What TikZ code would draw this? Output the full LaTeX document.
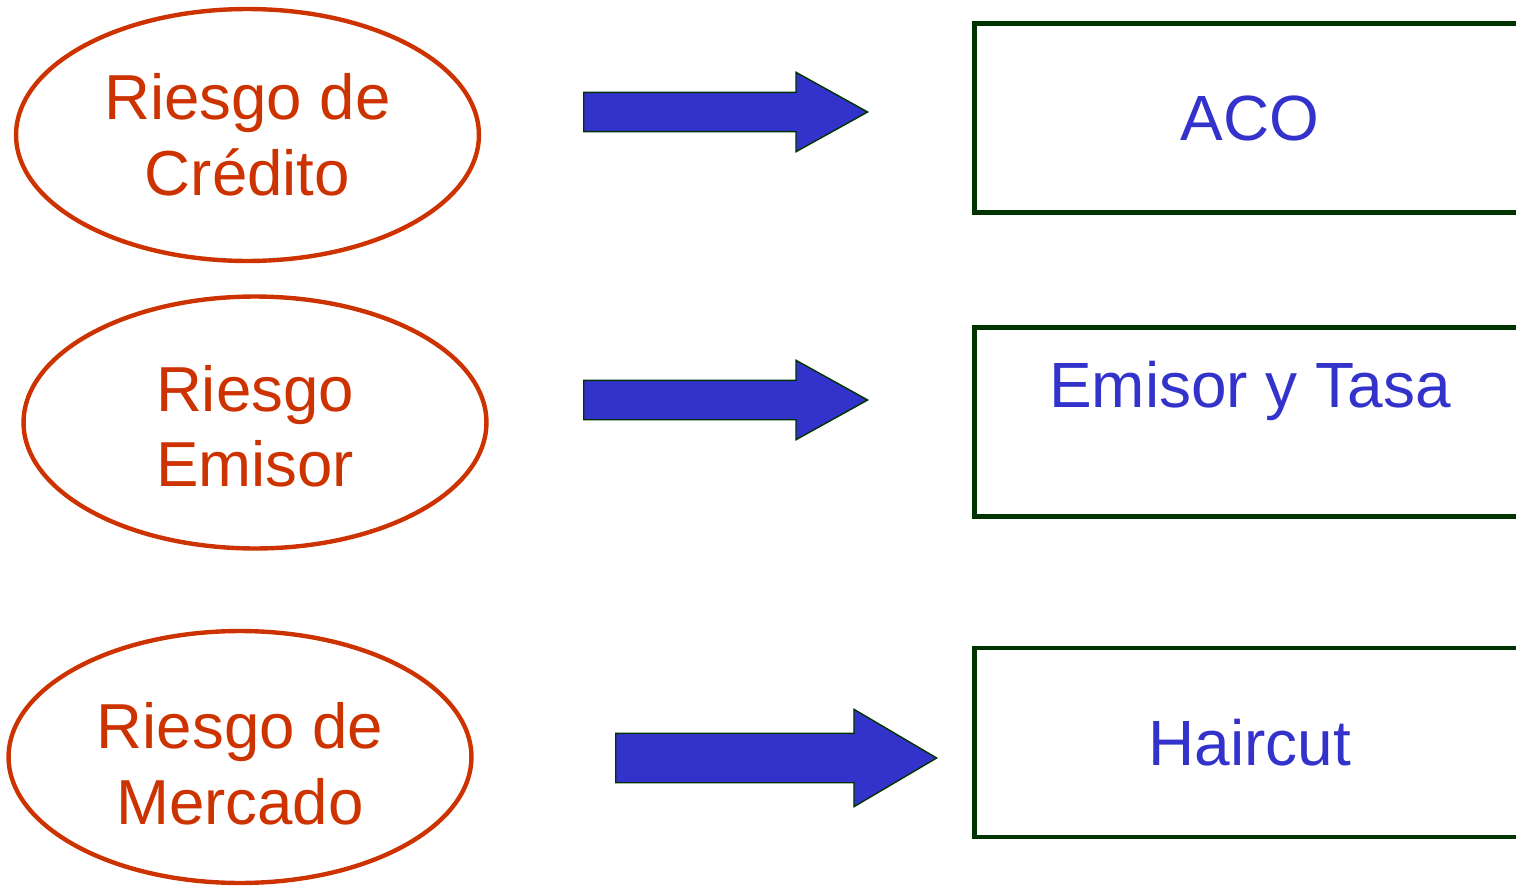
\documentclass[tikz,border=0pt]{standalone}
\usepackage{fontspec}
\setmainfont{Liberation Sans}
\usetikzlibrary{shapes.geometric,shapes.arrows}
\definecolor{riskred}{HTML}{CC3300}
\definecolor{toolblue}{HTML}{3333CC}
\definecolor{darkgreen}{HTML}{003300}
\tikzset{
  risk/.style={ellipse, draw=riskred, line width=2.5pt, text=riskred,
    minimum width=9.26cm, minimum height=5.04cm, align=center, inner sep=0pt,
    font=\fontsize{36.2pt}{43pt}\selectfont},
  tool/.style={rectangle, draw=darkgreen, line width=2.8pt, text=toolblue,
    minimum width=11.02cm, minimum height=3.78cm, align=center, inner sep=0pt,
    font=\fontsize{36.4pt}{43pt}\selectfont},
  fatarrow/.style={single arrow, draw=darkgreen, fill=toolblue, line width=0.8pt,
    inner sep=0pt, text depth=0pt, anchor=tail, single arrow head indent=0pt}
}

\begin{document}
\begin{tikzpicture}[x=0.02cm, y=-0.02cm]
    \clip (0,0) rectangle (1516,886);
    \node[risk] (credito) at (247.5,135) {Riesgo de\\Crédito};
    \node[risk] (emisor) at (255,422.5) {\rule{0pt}{30.5pt}Riesgo\\Emisor};
    \node[risk] (mercado) at (240,757) {\rule{0pt}{34pt}Riesgo de\\Mercado};
    \node[tool] (aco) at (1250,118) {ACO};
    \node[tool] (tasa) at (1250,422) {Emisor y Tasa\\\mbox{}};
    \node[tool] (haircut) at (1250,742.5) {Haircut};
    % flechas
    \node[fatarrow, text height=0.76cm, minimum height=5.68cm, minimum width=1.56cm,
          single arrow head extend=0.4cm, single arrow tip angle=58] (a1) at (583,112) {};
    \node[fatarrow, text height=0.76cm, minimum height=5.68cm, minimum width=1.56cm,
          single arrow head extend=0.4cm, single arrow tip angle=58] (a2) at (583,400) {};
    \node[fatarrow, text height=0.96cm, minimum height=6.42cm, minimum width=1.92cm,
          single arrow head extend=0.48cm, single arrow tip angle=61] (a3) at (615,758) {};
\end{tikzpicture}
\end{document}
